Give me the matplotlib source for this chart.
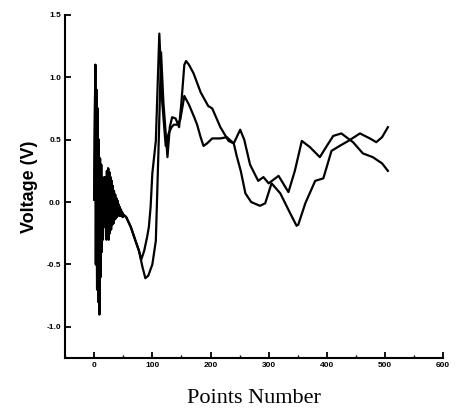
import matplotlib
matplotlib.use("Agg")
import matplotlib.pyplot as plt
from matplotlib.ticker import MultipleLocator

# shared noisy start (x = 0..50 step 1)
noise_x = list(range(0, 51))
noise_y = [0.02, 0.6, 1.1, -0.5, 0.9, -0.7, 0.75, -0.8, 0.5, -0.9,
           0.35, -0.6, 0.3, -0.4, 0.2, -0.3, 0.15, -0.2, 0.2, -0.1,
           0.2, -0.3, 0.25, -0.28, 0.27, -0.3, 0.24, -0.25, 0.2, -0.22,
           0.17, -0.18, 0.13, -0.17, 0.09, -0.14, 0.06, -0.13, 0.03, -0.12,
           0.01, -0.1, -0.02, -0.11, -0.04, -0.11, -0.06, -0.11, -0.08, -0.12,
           -0.1]

# common smooth descent
common_x = [55, 63, 71, 77]
common_y = [-0.12, -0.2, -0.31, -0.39]

# series A tail
a_x = [81, 86, 91, 94, 97, 100, 106, 112, 117, 123, 128, 133, 137, 143, 148,
       155, 163, 172, 177, 183, 188, 194, 203, 217, 228, 240, 245, 252, 260,
       270, 285, 294, 305, 320, 337, 348, 351, 363, 380, 394, 408, 422, 437,
       457, 474, 485, 495, 505]
a_y = [-0.46, -0.39, -0.28, -0.2, -0.04, 0.23, 0.49, 1.35, 0.8, 0.45, 0.55,
       0.6, 0.62, 0.62, 0.66, 0.85, 0.78, 0.68, 0.62, 0.52, 0.45, 0.47, 0.51,
       0.51, 0.52, 0.47, 0.37, 0.25, 0.07, 0.0, -0.03, -0.01, 0.15, 0.07,
       -0.09, -0.19, -0.18, -0.01, 0.17, 0.19, 0.41, 0.45, 0.49, 0.55, 0.51,
       0.48, 0.52, 0.6]

# series B tail
b_x = [83, 88, 93, 100, 106, 108.5, 111, 115, 119, 126, 130, 134, 140, 146,
       150, 155, 158, 163, 171, 183, 196, 203, 217, 231, 240, 251, 258, 268,
       282, 291, 300, 317, 334, 345, 357, 371, 388, 400, 411, 425, 445, 462,
       479, 495, 505]
b_y = [-0.52, -0.61, -0.59, -0.5, -0.31, 0.09, 0.49, 1.2, 0.8, 0.36, 0.6,
       0.68, 0.67, 0.6, 0.8, 1.1, 1.13, 1.1, 1.03, 0.88, 0.77, 0.75, 0.6,
       0.49, 0.47, 0.58, 0.5, 0.3, 0.17, 0.2, 0.15, 0.21, 0.08, 0.25, 0.49,
       0.44, 0.36, 0.45, 0.53, 0.55, 0.48, 0.39, 0.36, 0.31, 0.25]

x_ticks = [0, 100, 200, 300, 400, 500, 600]
y_ticks = [-1.0, -0.5, 0.0, 0.5, 1.0, 1.5]
y_tick_labels = ["-1.0", "-0.5", "0.0", "0.5", "1.0", "1.5"]

fig = plt.figure(figsize=(4.65, 4.13), dpi=100)
ax = fig.add_axes([0.14, 0.133, 0.813, 0.831])

ax.plot(noise_x + common_x + a_x, noise_y + common_y + a_y,
        color="black", lw=1.6, solid_joinstyle="round")
ax.plot(noise_x + common_x + b_x, noise_y + common_y + b_y,
        color="black", lw=1.6, solid_joinstyle="round")

ax.set_xlim(-50, 600)
ax.set_ylim(-1.25, 1.5)
ax.set_xticks(x_ticks)
ax.set_xticklabels([str(v) for v in x_ticks])
ax.set_yticks(y_ticks)
ax.set_yticklabels(y_tick_labels)
ax.xaxis.set_minor_locator(MultipleLocator(50))

for s in ["top", "right"]:
    ax.spines[s].set_visible(False)
for s in ["left", "bottom"]:
    ax.spines[s].set_linewidth(1.5)

ax.tick_params(axis="both", which="major", direction="in", length=4,
               width=1.3, labelsize=6, pad=3)
ax.tick_params(axis="x", which="minor", direction="in", length=2, width=1.0)
for lab in ax.get_xticklabels() + ax.get_yticklabels():
    lab.set_fontweight("bold")
    lab.set_family("Liberation Sans")

ax.set_ylabel("Voltage (V)", fontsize=13, fontweight="bold",
              family="Liberation Sans", labelpad=6)
ax.set_xlabel("Points Number", fontsize=16, family="Liberation Serif",
              labelpad=14)

fig.savefig("out.png", dpi=100)
